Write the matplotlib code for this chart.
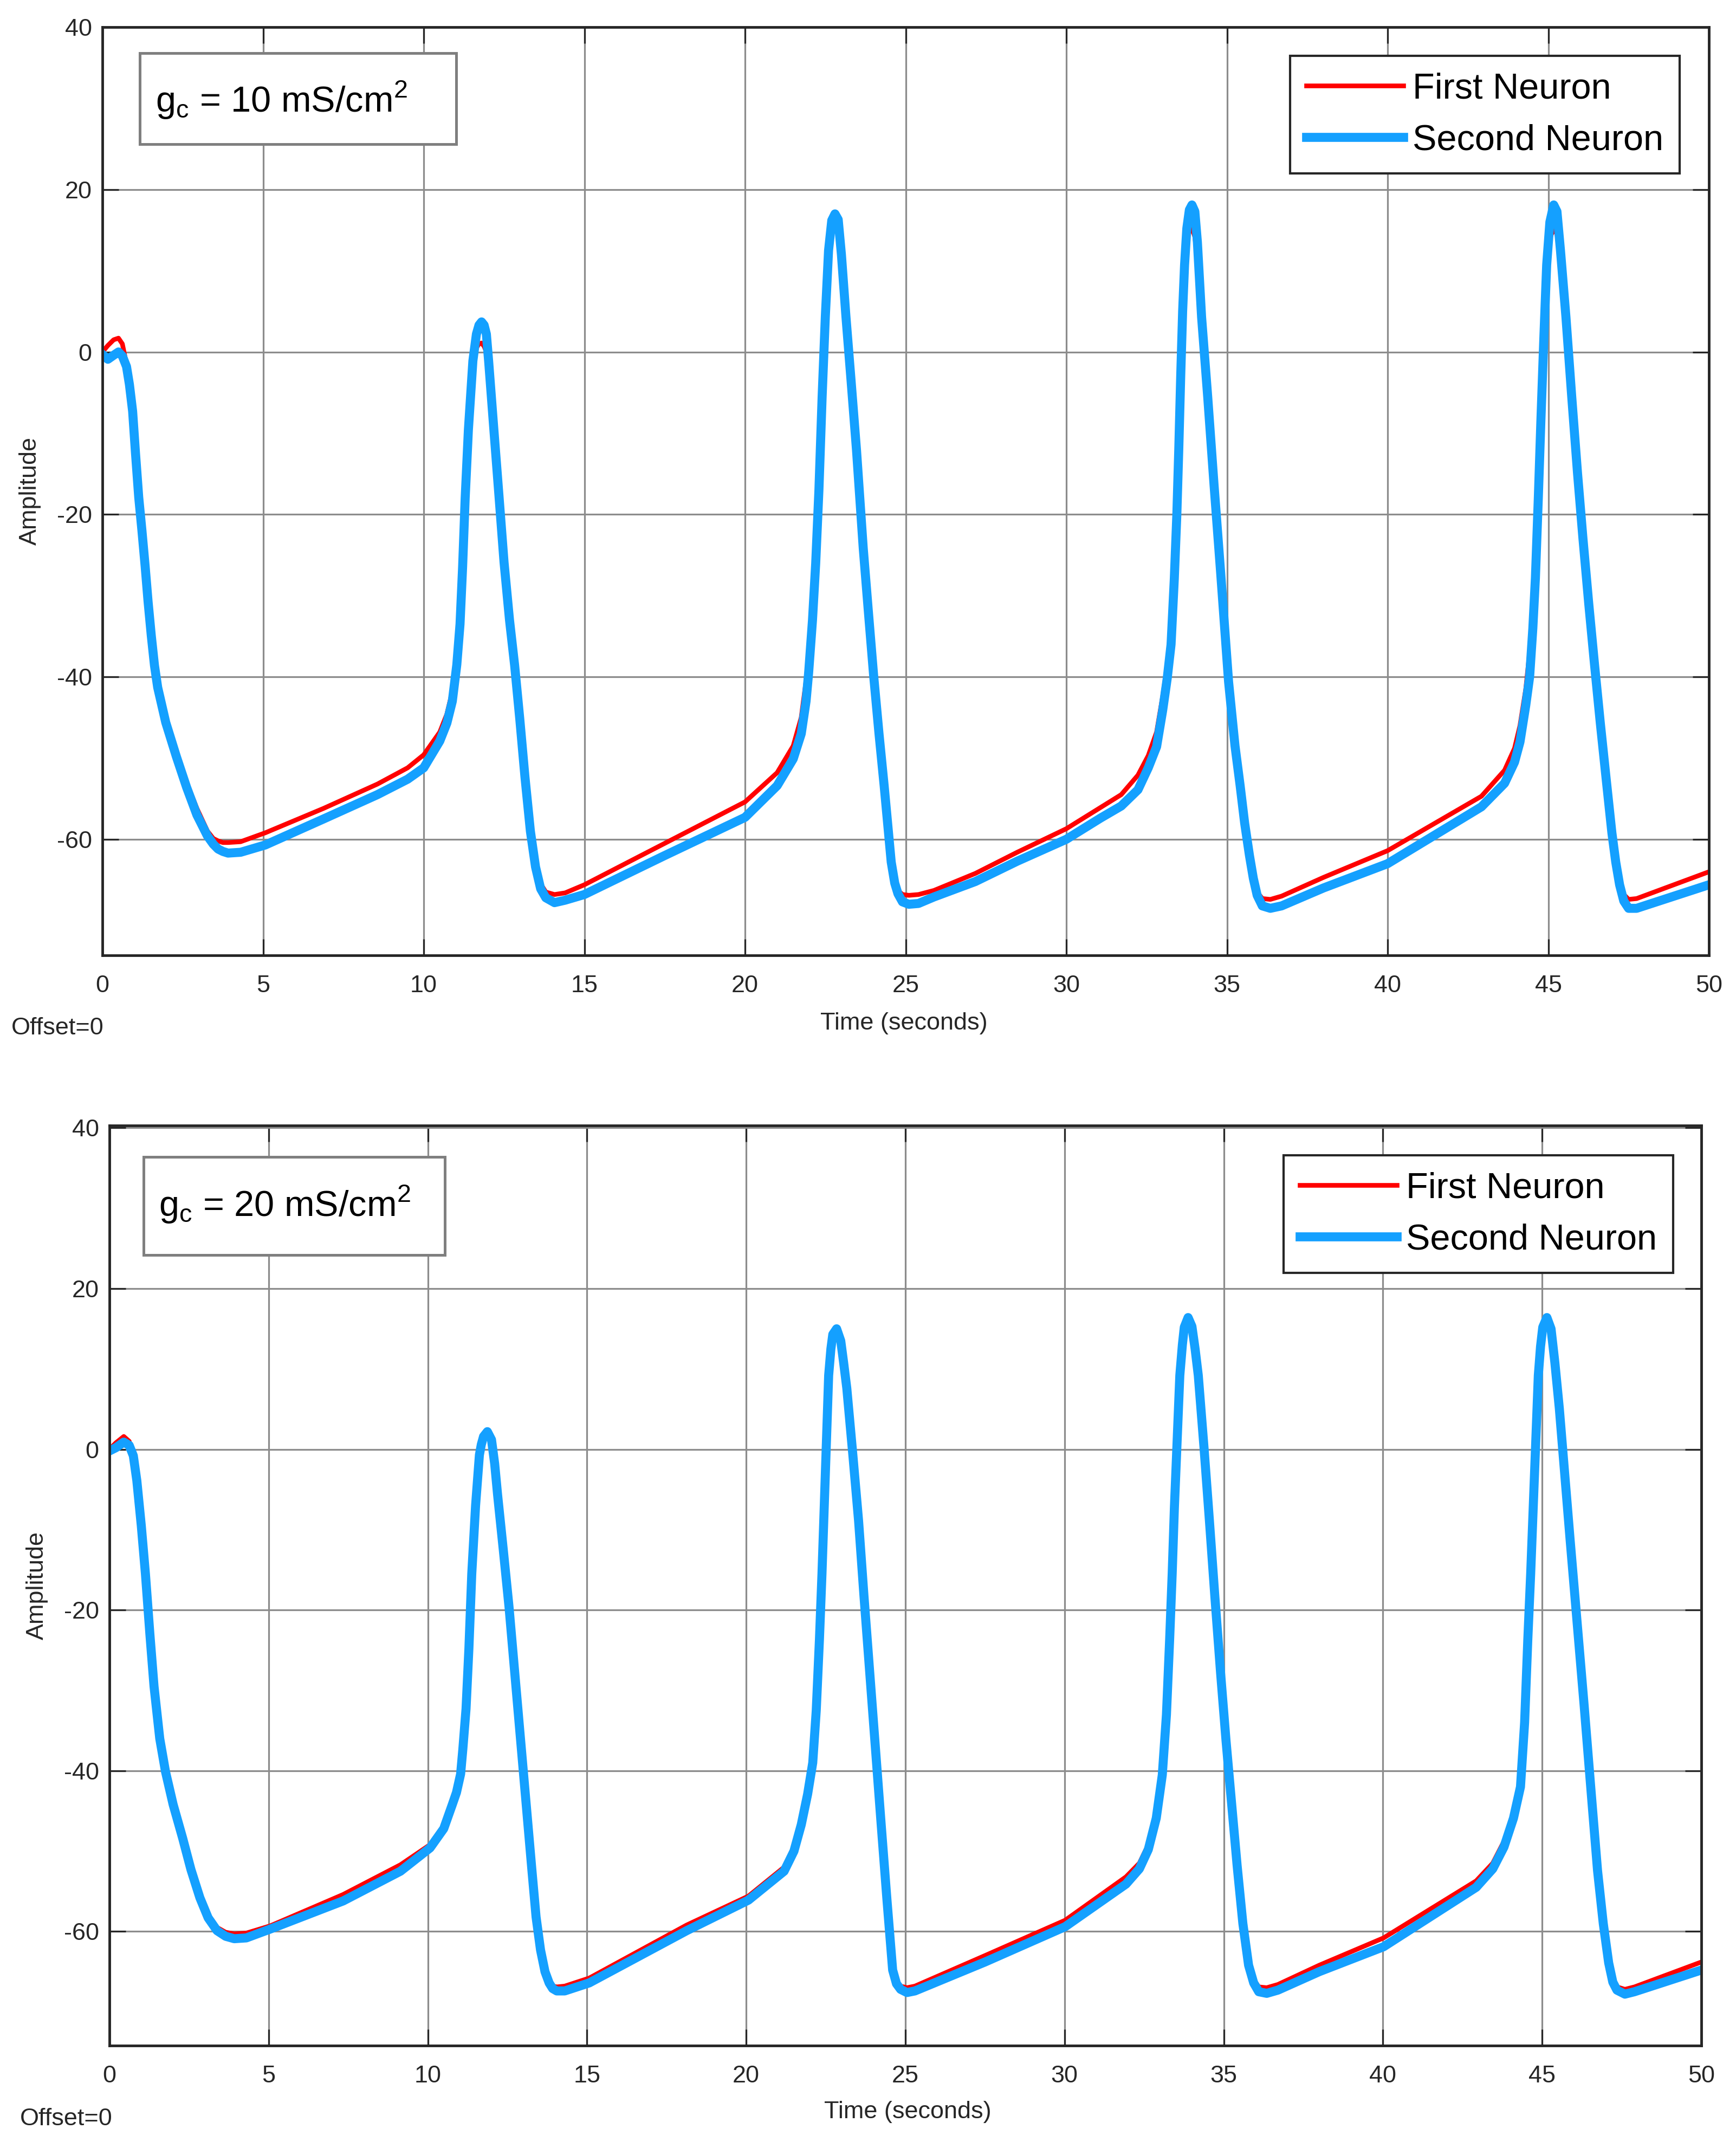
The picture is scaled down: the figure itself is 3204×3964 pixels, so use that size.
import matplotlib
matplotlib.use('Agg')
import matplotlib.pyplot as plt
from matplotlib.patches import Rectangle

plt.rcParams['font.family'] = ['Liberation Sans', 'DejaVu Sans']
plt.rcParams['mathtext.fontset'] = 'custom'
plt.rcParams['mathtext.rm'] = 'Liberation Sans'
plt.rcParams['axes.unicode_minus'] = False

# ---- data ----
# panel 1 : gc = 10 mS/cm^2   (time, first neuron, second neuron)
t10 = [0.0, 0.17, 0.35, 0.5, 0.62, 0.75, 0.84, 0.94, 1.03, 1.13, 1.23, 1.33, 1.42, 1.52, 1.62,
       1.72, 1.97, 2.3, 2.62, 2.94, 3.27, 3.45, 3.6, 3.75, 3.91, 4.3, 5.07, 6.88, 8.56, 9.5,
       10.0, 10.5, 10.72, 10.89, 11.03, 11.13, 11.21, 11.29, 11.39, 11.53, 11.64, 11.72, 11.8,
       11.88, 11.95, 12.02, 12.18, 12.34, 12.5, 12.67, 12.83, 12.99, 13.15, 13.32, 13.48,
       13.64, 13.8, 14.07, 14.4, 15.0, 17.5, 20.0, 21.0, 21.5, 21.75, 21.9, 21.98, 22.1, 22.2,
       22.3, 22.4, 22.5, 22.6, 22.7, 22.8, 22.9, 23.0, 23.14, 23.3, 23.47, 23.68, 23.85, 24.0,
       24.17, 24.33, 24.45, 24.55, 24.66, 24.76, 24.9, 25.1, 25.4, 25.88, 27.17, 28.47, 30.0,
       31.06, 31.71, 32.23, 32.55, 32.81, 33.0, 33.14, 33.26, 33.36, 33.44, 33.5, 33.56, 33.62,
       33.68, 33.75, 33.83, 33.91, 34.0, 34.08, 34.21, 34.4, 34.6, 34.8, 35.05, 35.25, 35.41,
       35.55, 35.7, 35.82, 35.94, 36.1, 36.35, 36.7, 38.0, 40.0, 42.92, 43.64, 43.95, 44.12,
       44.3, 44.42, 44.52, 44.6, 44.69, 44.77, 44.86, 44.95, 45.05, 45.17, 45.27, 45.38, 45.55,
       45.73, 45.91, 46.08, 46.26, 46.44, 46.62, 46.8, 46.98, 47.1, 47.22, 47.35, 47.5, 47.75,
       50.0]
first10 = [0.0, 0.8, 1.5, 1.7, 1.0, -1.5, -4.0, -7.3, -12.5, -17.9, -22.0, -26.4, -30.7, -34.9, -38.5,
           -41.0, -45.2, -49.3, -53.0, -56.2, -59.0, -59.9, -60.2, -60.4, -60.4, -60.3, -59.2, -56.2, -53.2, -51.2,
           -49.6, -46.8, -44.6, -41.8, -37.0, -32.5, -25.9, -17.6, -9.4, -2.0, 0.5, 1.0, 1.1,
           0.7, 0.0, -1.5, -9.4, -17.6, -25.9, -33.0, -38.6, -45.2, -52.3, -58.8, -63.0,
           -65.5, -66.5, -66.8, -66.6, -65.6, -60.5, -55.4, -51.8, -48.5, -45.0, -40.5, -37.0, -31.0, -24.5,
           -16.0, -5.0, 4.4, 11.5, 15.0, 15.8, 14.8, 11.5, 4.4, -3.5, -12.1, -24.2, -32.5, -39.7,
           -47.0, -53.4, -58.5, -62.6, -65.0, -66.3, -66.8, -66.9, -66.8, -66.3, -64.2, -61.6, -58.7,
           -56.1, -54.5, -52.1, -49.7, -46.8, -42.4, -38.6, -33.5, -25.0, -17.0, -10.0, -2.1, 5.0,
           10.7, 13.5, 15.0, 15.2, 14.2, 11.5, 4.3, -5.5, -16.5, -27.0, -40.6, -48.5, -53.4,
           -58.0, -62.0, -64.6, -66.5, -67.3, -67.4, -67.0, -64.7, -61.4, -54.7, -51.5, -48.8, -46.0,
           -41.5, -37.0, -32.0, -26.0, -17.0, -8.5, 1.5, 10.7, 14.0, 15.2, 14.5, 11.5, 4.3,
           -5.5, -14.9, -23.0, -31.0, -38.5, -45.7, -52.5, -59.2, -62.8, -65.3, -66.8, -67.4, -67.3,
           -64.0]
second10 = [-0.3, -0.9, -0.4, 0.0, -0.5, -1.8, -4.0, -7.3, -12.5, -17.9, -22.0, -26.4, -30.7, -34.9, -38.6,
            -41.3, -45.6, -49.8, -53.6, -57.0, -59.6, -60.6, -61.2, -61.5, -61.7, -61.6, -60.7, -57.5, -54.5, -52.6,
            -51.2, -47.9, -45.7, -43.0, -38.5, -33.5, -26.5, -18.0, -9.6, -1.1, 2.2, 3.3, 3.7,
            3.3, 2.2, -1.1, -9.4, -17.6, -25.9, -33.0, -38.6, -45.2, -52.3, -59.0, -63.4,
            -66.1, -67.2, -67.8, -67.5, -66.8, -62.0, -57.3, -53.4, -50.1, -47.0, -43.0, -39.5, -33.0, -26.0,
            -17.0, -5.5, 4.4, 12.5, 16.2, 17.0, 16.3, 12.0, 4.4, -3.5, -12.1, -24.2, -32.5, -39.7,
            -47.0, -53.4, -58.5, -62.8, -65.4, -66.7, -67.7, -68.0, -67.9, -67.1, -65.2, -62.7, -60.0,
            -57.4, -55.9, -53.9, -51.2, -48.6, -44.1, -40.2, -36.0, -28.0, -20.0, -12.0, -3.0, 5.0,
            10.7, 15.2, 17.5, 18.1, 17.3, 13.5, 4.3, -5.5, -16.5, -27.0, -40.6, -48.5, -53.4,
            -58.0, -62.0, -64.8, -66.9, -68.2, -68.5, -68.2, -66.0, -63.0, -56.0, -53.1, -50.5, -48.0,
            -43.5, -40.0, -34.0, -27.8, -18.0, -8.5, 1.5, 10.7, 16.0, 18.1, 17.3, 12.5, 4.3,
            -5.5, -14.9, -23.0, -31.0, -38.5, -45.7, -52.5, -59.2, -62.8, -65.6, -67.6, -68.5, -68.5,
            -65.6]

# panel 2 : gc = 20 mS/cm^2
t20 = [0.0, 0.2, 0.45, 0.62, 0.75, 0.86, 1.0, 1.13, 1.27, 1.4, 1.58, 1.76, 2.0, 2.3, 2.56, 2.84,
       3.1, 3.38, 3.65, 3.92, 4.3, 5.05, 7.34, 9.14, 10.07, 10.5, 10.76, 10.9, 11.03, 11.1,
       11.2, 11.29, 11.38, 11.5, 11.62, 11.68, 11.75, 11.87, 12.0, 12.1, 12.19, 12.37, 12.55,
       12.73, 12.91, 13.09, 13.27, 13.4, 13.54, 13.68, 13.81, 13.92, 14.05, 14.3, 15.07, 18.13,
       20.07, 21.19, 21.5, 21.73, 21.93, 22.09, 22.2, 22.3, 22.38, 22.45, 22.52, 22.59, 22.66,
       22.72, 22.84, 22.97, 23.06, 23.16, 23.35, 23.53, 23.7, 23.88, 24.06, 24.24, 24.42, 24.6,
       24.72, 24.85, 25.05, 25.3, 27.5, 30.02, 31.93, 32.35, 32.63, 32.88, 33.07, 33.2, 33.3,
       33.38, 33.45, 33.54, 33.62, 33.7, 33.76, 33.88, 34.0, 34.1, 34.2, 34.38, 34.55, 34.72,
       34.9, 35.07, 35.25, 35.42, 35.6, 35.78, 35.94, 36.1, 36.35, 36.7, 38.0, 40.02, 42.93,
       43.45, 43.8, 44.1, 44.32, 44.45, 44.55, 44.64, 44.72, 44.8, 44.88, 44.95, 45.02, 45.15,
       45.28, 45.4, 45.54, 45.71, 45.88, 46.1, 46.32, 46.53, 46.74, 46.92, 47.09, 47.22, 47.35,
       47.6, 47.9, 50.0]
first20 = [0.0, 0.8, 1.6, 1.0, -0.8, -3.9, -9.5, -15.5, -23.0, -29.5, -36.0, -40.1, -44.0, -48.2, -52.0, -55.5,
           -57.9, -59.5, -60.1, -60.3, -60.2, -59.3, -55.4, -51.7, -49.2, -46.8, -44.0, -42.3, -39.6, -36.5,
           -31.5, -24.5, -15.5, -7.0, -0.7, 0.6, 1.6, 2.2, 1.2, -1.8, -5.6, -12.5, -19.6,
           -27.8, -36.0, -44.2, -52.4, -58.2, -62.3, -65.0, -66.2, -66.8, -66.9, -66.8, -65.8, -59.2,
           -55.6, -52.0, -49.5, -46.0, -42.0, -38.0, -31.5, -23.7, -15.5, -7.2, 1.0, 9.2, 12.5,
           14.3, 15.0, 13.5, 10.8, 7.6, -0.7, -8.9, -18.3, -27.8, -37.3, -46.7, -56.0, -64.5,
           -66.2, -66.8, -67.0, -66.8, -63.0, -58.6, -53.2, -51.5, -49.2, -45.2, -39.6, -32.0, -23.7,
           -15.5, -7.2, 1.5, 9.2, 13.0, 15.2, 16.4, 15.3, 12.5, 9.2, 0.2, -8.9, -18.3,
           -27.8, -36.2, -44.2, -51.8, -59.0, -64.0, -66.0, -66.9, -67.0, -66.6, -64.2, -60.8, -53.7,
           -51.5, -48.8, -45.2, -41.2, -33.0, -23.7, -15.5, -7.2, 1.0, 9.2, 12.8, 15.2, 16.4,
           15.0, 10.8, 5.1, -3.1, -11.3, -21.6, -31.9, -42.2, -52.4, -59.0, -63.9, -66.0, -66.9,
           -67.2, -66.9, -63.8]
second20 = [-0.2, 0.2, 0.9, 0.5, -0.8, -3.9, -9.5, -15.5, -23.0, -29.5, -36.0, -40.1, -44.2, -48.4, -52.3, -55.8,
            -58.3, -59.9, -60.6, -60.9, -60.8, -59.7, -56.2, -52.5, -49.6, -47.2, -44.3, -42.7, -40.4, -37.3,
            -32.3, -24.8, -15.5, -7.0, -0.7, 0.6, 1.6, 2.2, 1.2, -1.8, -5.6, -12.5, -19.6,
            -27.8, -36.0, -44.2, -52.4, -58.2, -62.3, -65.0, -66.4, -67.1, -67.4, -67.4, -66.4, -59.9,
            -56.1, -52.5, -50.0, -46.7, -42.9, -39.0, -32.5, -23.7, -15.5, -7.2, 1.0, 9.2, 12.5,
            14.3, 15.0, 13.5, 10.8, 7.6, -0.7, -8.9, -18.3, -27.8, -37.3, -46.7, -56.0, -64.8,
            -66.5, -67.2, -67.6, -67.4, -63.8, -59.4, -54.1, -52.2, -49.8, -45.9, -40.5, -33.0, -23.7,
            -15.5, -7.2, 1.5, 9.2, 13.0, 15.2, 16.4, 15.3, 12.5, 9.2, 0.2, -8.9, -18.3,
            -27.8, -36.2, -44.2, -51.8, -59.0, -64.2, -66.4, -67.5, -67.7, -67.3, -65.0, -61.9, -54.5,
            -52.2, -49.5, -45.9, -42.0, -34.0, -23.7, -15.5, -7.2, 1.0, 9.2, 12.8, 15.2, 16.4,
            15.0, 10.8, 5.1, -3.1, -11.3, -21.6, -31.9, -42.2, -52.4, -59.0, -63.9, -66.3, -67.3,
            -67.8, -67.5, -64.8]

xticks = list(range(0, 51, 5))
yticks = [-60, -40, -20, 0, 20, 40]
names = ['First Neuron', 'Second Neuron']

RED = '#ff0000'
BLUE = '#14a0ff'
DARK = '#262626'
FS = 32.4   # tick / label text
FSB = 48    # legend and annotation


def panel(ax, t, v1, v2, ylim, note, box, txt, leg_anchor):
    ax.plot(t, v1, color=RED, lw=6.2, label=names[0], solid_joinstyle='round', zorder=3)
    ax.plot(t, v2, color=BLUE, lw=12, label=names[1], solid_joinstyle='round', zorder=4)
    ax.set_xlim(0, 50)
    ax.set_ylim(*ylim)
    ax.set_xticks(xticks)
    ax.set_yticks(yticks)
    ax.grid(True, color='#8c8c8c', linewidth=2.3)
    ax.set_axisbelow(True)
    ax.tick_params(direction='in', top=True, right=True, length=21.6, width=2.3,
                   colors=DARK, labelsize=FS)
    ax.tick_params(axis='x', pad=26)
    ax.tick_params(axis='y', pad=14)
    for s in ax.spines.values():
        s.set_linewidth(3.5)
        s.set_color(DARK)
        s.set_zorder(5)

    # gc annotation box
    ax.add_patch(Rectangle((box[0], box[1]), box[2], box[3], transform=ax.transAxes,
                           facecolor='white', edgecolor='#7f7f7f', lw=3.6, zorder=6))
    ax.text(txt[0], txt[1], note, transform=ax.transAxes, fontsize=FSB, color='black',
            va='baseline', ha='left', zorder=7)

    leg = ax.legend(loc='upper right', bbox_to_anchor=leg_anchor, borderaxespad=0,
                    fontsize=FSB, handlelength=2.69, handletextpad=0.25, borderpad=0.45,
                    labelspacing=0.5, fancybox=False, framealpha=1, edgecolor=DARK)
    leg.get_frame().set_linewidth(3.0)
    leg.set_zorder(8)


fig = plt.figure(figsize=(32.04, 39.64), dpi=100)
ax1 = fig.add_axes([0.0590, 0.5552, 0.9254, 0.43219])
ax2 = fig.add_axes([0.06305, 0.04768, 0.91697, 0.42835])

panel(ax1, t10, first10, second10, (-74.3, 40),
      r'g$_\mathregular{c}$ = 10 mS/cm$^\mathregular{2}$',
      (0.0233, 0.8739, 0.1969, 0.0981), (0.0331, 0.9083), (0.9818, 0.969))
panel(ax2, t20, first20, second20, (-74.2, 40.3),
      r'g$_\mathregular{c}$ = 20 mS/cm$^\mathregular{2}$',
      (0.0214, 0.8592, 0.1893, 0.1066), (0.031, 0.901), (0.9823, 0.9676))

# axis labels the way the scope places them
fig.text(0.0172, 0.7714, 'Amplitude', rotation=90, ha='center', va='center', fontsize=FS, color=DARK)
fig.text(0.0212, 0.2619, 'Amplitude', rotation=90, ha='center', va='center', fontsize=FS, color=DARK)
fig.text(0.5206, 0.5237, 'Time (seconds)', ha='center', va='center', fontsize=FS, color=DARK)
fig.text(0.5228, 0.0169, 'Time (seconds)', ha='center', va='center', fontsize=FS, color=DARK)
fig.text(0.0066, 0.5214, 'Offset=0', ha='left', va='center', fontsize=FS, color=DARK)
fig.text(0.0115, 0.0136, 'Offset=0', ha='left', va='center', fontsize=FS, color=DARK)

fig.savefig('out.png', dpi=100)
